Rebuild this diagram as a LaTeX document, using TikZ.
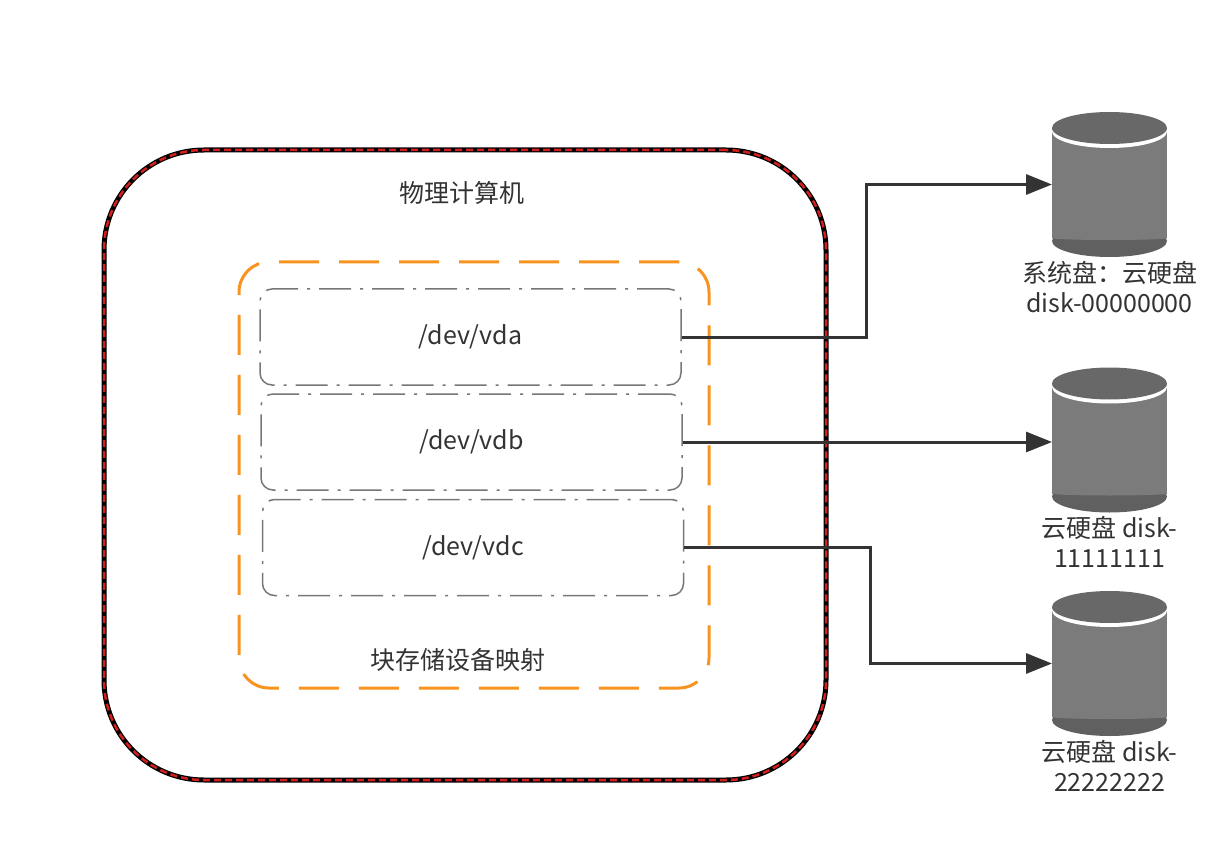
\documentclass[tikz,border=0pt]{standalone}
\usepackage{fontspec}
\setmainfont{Noto Sans CJK SC}
\usetikzlibrary{arrows.meta,positioning}

\definecolor{textgray}{HTML}{333333}
\definecolor{linegray}{HTML}{333333}
\definecolor{boxgray}{HTML}{777777}
\definecolor{hostred}{HTML}{D41F1F}
\definecolor{maporange}{HTML}{F7931E}
\definecolor{disktop}{HTML}{686868}
\definecolor{diskbody}{HTML}{7B7B7B}
\definecolor{diskdark}{HTML}{606060}

\tikzset{
  label font/.style={font=\fontsize{25}{30}\selectfont, text=textgray},
  hostbox/.style={draw=black, line width=5pt, rounded corners=100pt,
    minimum width=722pt, minimum height=630pt,
    postaction={draw=hostred, line width=2.5pt, dash pattern=on 7pt off 4pt}},
  mapbox/.style={draw=maporange, line width=3pt, rounded corners=30pt,
    dash pattern=on 40pt off 20pt, minimum width=470pt, minimum height=426pt},
  devbox/.style={draw=boxgray, line width=1.5pt, rounded corners=12pt,
    dash pattern=on 32pt off 9pt on 3pt off 9pt,
    minimum width=421pt, minimum height=96pt, label font},
  diskbox/.style={minimum width=115pt, minimum height=145pt, inner sep=0pt, outer sep=0pt},
  disklabel/.style={label font, align=center, inner sep=0pt},
  link/.style={draw=linegray, line width=3pt, -{Triangle[length=26pt,width=20pt]}}
}

% cloud disk drawn round a named node
\newcommand{\drawdisk}[1]{%
  \begin{scope}[shift={(#1.center)}]
    \fill[diskdark] (0,56.5) ellipse[x radius=57.5pt, y radius=16pt];
    \fill[diskbody] (-57.5,-56.5) rectangle (57.5,53.5);
    \fill[diskbody] (0,53.5) ellipse[x radius=57.5pt, y radius=2pt];
    \fill[white] (0,-53) ellipse[x radius=57.5pt, y radius=16.5pt];
    \fill[disktop] (0,-56.5) ellipse[x radius=57.5pt, y radius=16pt];
  \end{scope}}

\begin{document}
\begin{tikzpicture}[x=1pt, y=-1pt]
  \useasboundingbox (0,0) rectangle (1227,845);

  % physical machine
  \node[hostbox] (host) at (465,465) {};
  \node[label font] (hostlabel) at (462,193) {物理计算机};

  % block device mapping
  \node[mapbox] (map) at (474,475) {};
  \node[label font] (maplabel) at (458,660) {块存储设备映射};

  \node[devbox] (vda) at (470.5,337) {/dev/vda};
  \node[devbox] (vdb) at (471.5,442) {/dev/vdb};
  \node[devbox] (vdc) at (473,547.5) {/dev/vdc};

  % cloud disks
  \node[diskbox] (d1) at (1109.5,184.5) {};
  \node[diskbox] (d2) at (1109.5,440) {};
  \node[diskbox] (d3) at (1109.5,663.5) {};
  \drawdisk{d1}
  \drawdisk{d2}
  \drawdisk{d3}
  \node[disklabel, below=4pt of d1] (d1label) {系统盘：云硬盘\\disk-00000000};
  \node[disklabel, below=4pt of d2] (d2label) {云硬盘 disk-\\11111111};
  \node[disklabel, below=4pt of d3] (d3label) {云硬盘 disk-\\22222222};

  % mappings
  \coordinate (bend1) at (866,184.5);
  \coordinate (bend3) at (870,663.5);
  \draw[link] (vda.east) -| (bend1) -- (d1.west);
  \draw[link] (vdb.east) -- (vdb.east -| d2.west);
  \draw[link] (vdc.east) -| (bend3) -- (d3.west);
\end{tikzpicture}
\end{document}
